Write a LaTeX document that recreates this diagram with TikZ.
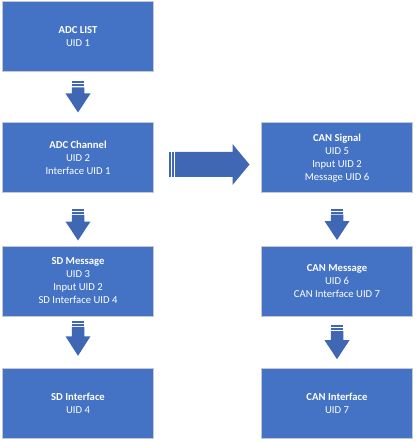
\documentclass[tikz,border=0pt]{standalone}
\usepackage{fontspec}
\setmainfont{Carlito}
\usetikzlibrary{calc}
\definecolor{boxblue}{RGB}{68,114,196}
\definecolor{arrowblue}{RGB}{63,103,180}
\definecolor{edgegray}{RGB}{196,200,208}

\begin{document}
\begin{tikzpicture}[x=0.75pt,y=0.75pt,
  block/.style={rectangle,draw=edgegray,line width=0.75pt,fill=boxblue,text=white,align=center,minimum width=113.25pt,minimum height=52.5pt,inner sep=0pt,font=\fontsize{8}{9.75}\selectfont},
  % striped block arrow: length / shaft half width / head half width / head length
  pics/stripearrow/.style args={#1/#2/#3/#4}{code={
    \fill[arrowblue] (0,-#2) rectangle (2,#2);
    \fill[arrowblue] (3,-#2) rectangle (5,#2);
    \fill[arrowblue] (6,-#2) -- (#1-#4,-#2) -- (#1-#4,-#3) -- (#1,0) -- (#1-#4,#3) -- (#1-#4,#2) -- (6,#2) -- cycle;
  }}
]
\useasboundingbox (0,0) rectangle (416,-441);
\node[block] (adclist) at (78,-36.5) {\textbf{ADC LIST}\\UID 1};
\node[block] (adcchan) at (78,-158) {\textbf{ADC Channel}\\UID 2\\Interface UID 1};
\node[block] (sdmsg) at (78,-281) {\textbf{SD Message}\\UID 3\\Input UID 2\\SD Interface UID 4};
\node[block] (sdif) at (78,-403) {\textbf{SD Interface}\\UID 4};
\node[block] (cansig) at (337,-158) {\textbf{CAN Signal}\\UID 5\\Input UID 2\\Message UID 6};
\node[block] (canmsg) at (337,-281) {\textbf{CAN Message}\\UID 6\\CAN Interface UID 7};
\node[block] (canif) at (337,-403) {\textbf{CAN Interface}\\UID 7};
\pic[rotate=-90] at ($(adclist.south)+(0,-9.5)$) {stripearrow={31/6.25/12.5/19}};
\pic[rotate=-90] at ($(adcchan.south)+(0,-15.3)$) {stripearrow={31.7/6.25/12.5/19}};
\pic[rotate=-90] at ($(sdmsg.south)+(0,-4.3)$) {stripearrow={35/6.25/12.5/19.5}};
\pic[rotate=-90] at ($(cansig.south)+(0,-15)$) {stripearrow={31.5/6.25/12.5/19}};
\pic[rotate=-90] at ($(canmsg.south)+(0,-8.7)$) {stripearrow={34/6.25/12.5/19}};
\pic at ($(adcchan.east)+(15,-6.5)$) {stripearrow={80.5/12.5/20.5/17}};
\end{tikzpicture}
\end{document}
